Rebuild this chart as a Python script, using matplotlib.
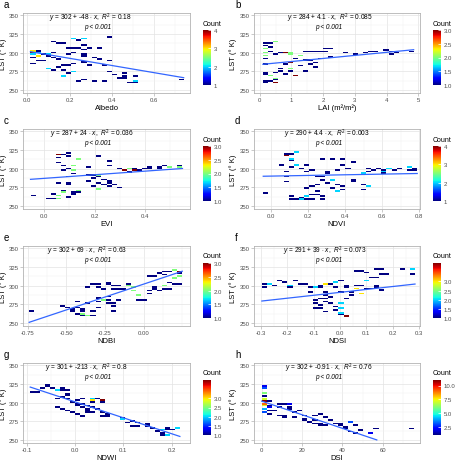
import matplotlib.pyplot as plt
import numpy as np
from matplotlib.ticker import AutoMinorLocator

plt.rcParams['font.family'] = ['Liberation Sans', 'DejaVu Sans']
plt.rcParams['axes.unicode_minus'] = False
plt.rcParams['mathtext.fontset'] = 'custom'
plt.rcParams['mathtext.rm'] = 'Liberation Sans'
plt.rcParams['mathtext.it'] = 'Liberation Sans:italic'

# binned points per panel: (index value, LST, count)
albedo_bins = [
    (0.02, 300, 4), (0.03, 303, 3), (0.015, 297, 2), (0.04, 296, 3), (0.03, 293, 1),
    (0.05, 300, 2), (0.015, 285, 1), (0.045, 290, 1), (0.06, 303, 1), (0.07, 298, 1),
    (0.08, 290, 1), (0.10, 297, 2), (0.11, 296, 1), (0.13, 300, 1), (0.12, 293, 1),
    (0.14, 291, 1), (0.09, 279, 1), (0.11, 278, 1), (0.12, 276, 1), (0.15, 280, 1),
    (0.17, 277, 1), (0.19, 273, 1), (0.12, 314, 1), (0.145, 312, 1), (0.16, 313, 1),
    (0.21, 318, 2), (0.24, 316, 1), (0.28, 318, 2), (0.27, 311, 1), (0.38, 322, 1),
    (0.19, 306, 1), (0.21, 307, 1), (0.24, 307, 1), (0.27, 305, 1), (0.30, 306, 1),
    (0.33, 307, 1), (0.19, 298, 1), (0.22, 300, 1), (0.26, 298, 1), (0.28, 296, 1),
    (0.31, 293, 1), (0.33, 291, 1), (0.40, 289, 1), (0.17, 284, 1), (0.20, 283, 1),
    (0.23, 285, 1), (0.26, 287, 1), (0.29, 283, 1), (0.36, 284, 1), (0.23, 275, 2),
    (0.18, 268, 2), (0.24, 263, 1), (0.28, 265, 1), (0.31, 263, 1), (0.36, 263, 1),
    (0.40, 274, 1), (0.41, 270, 1), (0.43, 266, 1), (0.45, 268, 1), (0.46, 272, 1),
    (0.47, 266, 1), (0.49, 261, 1), (0.52, 259, 1), (0.52, 268, 1), (0.50, 262, 2),
    (0.74, 265, 1),
]
lai_bins = [
    (0.1, 313, 1), (0.3, 313, 1), (0.45, 315, 1), (0.55, 316, 1), (0.2, 310, 1),
    (0.35, 307, 1), (0.1, 305, 2), (0.1, 300, 2), (0.1, 296, 2), (0.12, 292, 1),
    (0.1, 284, 1), (0.1, 274, 1), (0.12, 262, 1), (0.2, 259, 1), (0.3, 262, 1),
    (0.4, 302, 1), (0.45, 298, 1), (0.6, 300, 1), (0.82, 300, 3), (0.9, 299, 2),
    (1.0, 297, 2), (1.15, 293, 1), (1.3, 296, 2), (1.0, 287, 3), (0.85, 285, 1),
    (0.2, 272, 1), (0.3, 269, 1), (0.4, 270, 1), (0.5, 274, 1), (0.6, 276, 1),
    (0.7, 278, 1), (0.55, 266, 2), (0.45, 264, 1), (0.45, 260, 3), (0.8, 272, 1),
    (0.9, 279, 2), (1.13, 270, 3), (0.95, 276, 1), (1.35, 282, 1), (1.5, 276, 1),
    (1.55, 284, 1), (1.7, 286, 1), (1.8, 280, 1), (1.4, 290, 1), (1.65, 290, 1),
    (1.45, 301, 1), (1.6, 301, 1), (1.75, 301, 1), (1.9, 301, 1), (2.05, 302, 1),
    (2.2, 305, 1), (2.0, 305, 1), (1.95, 293, 1), (2.2, 295, 1), (2.7, 299, 1),
    (3.0, 298, 1), (3.35, 300, 1), (3.5, 302, 1), (3.7, 302, 1), (3.95, 303, 1),
    (4.2, 302, 1), (4.1, 297, 1), (4.3, 300, 1), (4.85, 301, 1),
]
evi_bins = [
    (-0.055, 265, 1), (0.013, 259, 1), (0.04, 261, 1), (0.06, 264, 2), (0.06, 319, 3),
    (0.075, 319, 1), (0.1, 322, 1), (0.09, 316, 1), (0.05, 314, 1), (0.06, 308, 1),
    (0.085, 305, 1), (0.1, 300, 1), (0.11, 304, 2), (0.11, 298, 2), (0.08, 298, 1),
    (0.12, 294, 1), (0.09, 289, 1), (0.053, 280, 1), (0.09, 280, 1), (0.105, 279, 1),
    (0.08, 271, 1), (0.085, 268, 1), (0.11, 269, 1), (0.125, 266, 1), (0.1, 263, 1),
    (0.04, 267, 1), (0.07, 269, 1), (0.13, 270, 2), (0.145, 268, 1), (0.065, 260, 2),
    (0.13, 313, 2), (0.21, 316, 1), (0.21, 292, 2), (0.205, 288, 1), (0.18, 283, 1),
    (0.17, 302, 1), (0.17, 292, 1), (0.2, 292, 1), (0.225, 290, 1), (0.24, 286, 1),
    (0.225, 281, 1), (0.24, 279, 1), (0.25, 283, 1), (0.265, 281, 1), (0.28, 279, 1),
    (0.29, 274, 1), (0.25, 277, 1), (0.21, 273, 2), (0.2, 277, 1), (0.26, 311, 1),
    (0.25, 305, 1), (0.3, 300, 1), (0.315, 298, 1), (0.33, 300, 2), (0.35, 300, 1),
    (0.365, 298, 1), (0.345, 296, 1), (0.38, 297, 1), (0.395, 300, 1), (0.41, 301, 1),
    (0.42, 300, 1), (0.45, 300, 1), (0.46, 302, 1), (0.475, 304, 1), (0.49, 301, 1),
    (0.5, 302, 1), (0.53, 301, 1), (0.54, 304, 1), (0.55, 302, 1), (0.32, 297, 2),
    (0.36, 297, 2),
]
ndvi_bins = [
    (-0.043, 267, 1), (0.074, 317, 4), (0.095, 319, 1), (0.11, 320, 1), (0.13, 321, 1),
    (0.14, 323, 1), (0.12, 314, 2), (0.105, 311, 1), (0.06, 305, 1), (0.13, 305, 2),
    (0.12, 303, 1), (0.085, 296, 1), (0.08, 290, 1), (0.095, 282, 1), (0.1, 264, 1),
    (0.11, 260, 1), (0.14, 258, 1), (0.16, 262, 1), (0.17, 258, 2), (0.195, 258, 1),
    (0.2, 264, 2), (0.22, 266, 1), (0.245, 266, 1), (0.255, 270, 1), (0.22, 276, 1),
    (0.185, 274, 1), (0.23, 258, 1), (0.275, 264, 1), (0.285, 260, 1), (0.16, 301, 1),
    (0.185, 304, 1), (0.2, 295, 1), (0.23, 299, 1), (0.25, 290, 1), (0.275, 290, 1),
    (0.295, 293, 1), (0.31, 295, 1), (0.33, 286, 1), (0.345, 284, 1), (0.365, 279, 1),
    (0.39, 277, 1), (0.375, 273, 1), (0.35, 270, 2), (0.33, 275, 1), (0.31, 281, 1),
    (0.29, 284, 1), (0.255, 279, 1), (0.29, 313, 1), (0.34, 313, 1), (0.38, 313, 1),
    (0.39, 304, 1), (0.365, 298, 1), (0.41, 300, 1), (0.43, 308, 1), (0.435, 285, 1),
    (0.455, 283, 1), (0.49, 279, 1), (0.515, 277, 2), (0.51, 272, 1), (0.49, 293, 2),
    (0.525, 296, 1), (0.54, 300, 1), (0.56, 298, 1), (0.585, 300, 1), (0.6, 298, 1),
    (0.62, 296, 2), (0.64, 300, 1), (0.65, 301, 1), (0.67, 299, 1), (0.7, 300, 1),
    (0.74, 302, 2), (0.75, 298, 1), (0.77, 297, 1), (0.79, 301, 1), (0.6, 293, 1),
]
ndbi_bins = [
    (-0.74, 267, 1), (-0.53, 272, 1), (-0.5, 270, 1), (-0.47, 267, 1), (-0.44, 278, 1),
    (-0.46, 269, 1), (-0.42, 270, 1), (-0.41, 267, 1), (-0.39, 269, 1), (-0.43, 263, 1),
    (-0.4, 261, 1), (-0.38, 262, 2), (-0.37, 259, 2), (-0.36, 277, 1), (-0.32, 259, 1),
    (-0.34, 267, 1), (-0.31, 270, 1), (-0.29, 278, 1), (-0.27, 280, 1), (-0.28, 284, 1),
    (-0.25, 282, 1), (-0.23, 276, 1), (-0.22, 280, 1), (-0.21, 272, 1), (-0.19, 267, 1),
    (-0.18, 276, 1), (-0.16, 282, 1), (-0.24, 286, 1), (-0.37, 298, 1), (-0.33, 303, 1),
    (-0.31, 298, 1), (-0.28, 303, 1), (-0.26, 296, 1), (-0.24, 303, 1), (-0.22, 304, 1),
    (-0.21, 296, 1), (-0.19, 300, 1), (-0.17, 296, 1), (-0.16, 299, 1), (-0.13, 296, 1),
    (-0.11, 300, 2), (-0.08, 303, 1), (-0.07, 297, 2), (-0.05, 293, 2), (-0.02, 287, 2),
    (-0.03, 282, 1), (0.0, 280, 1), (0.02, 289, 1), (0.04, 294, 1), (0.06, 296, 1),
    (0.08, 298, 1), (0.1, 293, 1), (0.12, 296, 1), (0.13, 300, 1), (0.04, 312, 1),
    (0.07, 313, 1), (0.1, 316, 1), (0.13, 315, 1), (0.15, 319, 1), (0.17, 319, 1),
    (0.19, 322, 1), (0.21, 321, 1), (0.22, 319, 3), (0.23, 317, 1), (0.25, 312, 2),
    (0.21, 310, 2), (0.17, 305, 1), (0.19, 301, 1), (0.23, 303, 1), (0.15, 299, 1),
    (0.16, 295, 1),
]
ndsi_bins = [
    (-0.297, 303, 1), (-0.29, 299, 1), (-0.275, 302, 1), (-0.26, 303, 1), (-0.24, 301, 1),
    (-0.225, 306, 1), (-0.21, 304, 1), (-0.2, 297, 1), (-0.185, 301, 2), (-0.165, 306, 1),
    (-0.15, 303, 1), (-0.125, 303, 1), (-0.115, 299, 1), (-0.1, 297, 1), (-0.09, 299, 1),
    (-0.08, 301, 1), (-0.07, 297, 1), (-0.06, 303, 3), (-0.04, 303, 1), (-0.02, 304, 2),
    (0.0, 306, 1), (0.02, 301, 1), (0.03, 299, 1), (-0.11, 291, 1), (-0.09, 281, 1),
    (-0.085, 270, 1), (-0.075, 274, 1), (-0.06, 279, 1), (-0.055, 283, 1), (-0.05, 287, 1),
    (-0.035, 285, 1), (-0.035, 276, 1), (-0.02, 271, 1), (-0.025, 267, 1), (-0.005, 270, 2),
    (0.005, 264, 2), (0.01, 261, 1), (0.025, 260, 3), (0.03, 258, 1), (-0.005, 276, 2),
    (0.02, 283, 1), (0.035, 287, 1), (0.045, 292, 1), (0.005, 292, 1), (-0.02, 297, 1),
    (-0.045, 292, 1), (-0.075, 283, 1), (-0.085, 276, 1), (-0.075, 269, 1), (-0.045, 266, 1),
    (0.055, 301, 1), (0.07, 295, 3), (0.075, 290, 2), (0.082, 301, 1), (0.09, 290, 1),
    (0.095, 295, 1), (0.11, 306, 1), (0.12, 295, 1), (0.13, 299, 1), (0.14, 301, 1),
    (0.15, 294, 1), (0.07, 319, 1), (0.09, 319, 1), (0.11, 318, 1), (0.13, 321, 1),
    (0.15, 321, 1), (0.155, 315, 1), (0.14, 312, 1), (0.12, 310, 1), (0.1, 306, 1),
    (0.17, 315, 1), (0.24, 321, 1), (0.28, 323, 2), (0.285, 315, 1),
]
ndwi_bins = [
    (-0.093, 314, 1), (-0.079, 314, 1), (-0.069, 320, 1), (-0.062, 322, 1), (-0.052, 325, 1),
    (-0.045, 320, 1), (-0.038, 318, 2), (-0.03, 318, 1), (-0.024, 319, 1), (-0.017, 318, 1),
    (-0.02, 313, 1), (-0.026, 307, 1), (-0.033, 305, 1), (-0.017, 309, 1), (-0.014, 305, 1),
    (-0.01, 300, 1), (0.0, 298, 1), (0.007, 302, 1), (0.014, 305, 1), (0.01, 296, 1),
    (0.017, 294, 1), (0.02, 298, 1), (0.024, 291, 1), (0.03, 289, 1), (0.026, 296, 1),
    (0.033, 300, 1), (0.031, 302, 3), (0.038, 305, 2), (0.045, 305, 1), (0.052, 303, 3),
    (0.055, 300, 1), (0.058, 302, 1), (-0.034, 293, 1), (-0.024, 291, 1), (-0.014, 289, 1),
    (-0.003, 286, 1), (0.01, 284, 1), (0.02, 282, 1), (0.03, 288, 1), (0.038, 293, 1),
    (0.048, 291, 1), (0.059, 287, 1), (0.066, 284, 1), (0.072, 282, 1), (0.052, 282, 1),
    (0.041, 287, 1), (0.093, 280, 1), (0.1, 277, 2), (0.107, 274, 1), (0.12, 275, 1),
    (0.124, 268, 1), (0.117, 268, 1), (0.134, 273, 1), (0.145, 270, 1), (0.152, 268, 1),
    (0.162, 266, 1), (0.169, 261, 1), (0.176, 264, 2), (0.183, 260, 1), (0.19, 264, 1),
    (0.193, 266, 1), (0.2, 265, 1), (0.207, 267, 1), (0.217, 267, 1), (0.19, 257, 2),
    (0.183, 256, 1),
]
dsi_bins = [
    (0, 323, 2), (0, 319, 3), (0, 313, 6), (0, 309, 1), (0, 304.5, 7), (0, 302, 11),
    (0, 299, 9), (0, 295.5, 7), (0, 291, 4), (0, 287, 3), (3, 293, 2), (3, 302, 1),
    (3.7, 289, 1), (5, 295, 1), (4.5, 285, 1), (7, 289, 1), (7.9, 282, 1), (9.5, 293, 1),
    (10.5, 283, 1), (11, 298, 1), (13, 298, 1), (14.5, 298, 1), (13.5, 294, 1),
    (15, 291, 1), (16.2, 287, 1), (18, 289, 1), (15.4, 280, 1), (12, 280, 1), (9.5, 297, 1),
    (20.4, 282, 1), (21, 278, 1), (22.5, 276, 1), (24, 274, 1), (27, 282, 1), (28, 284, 1),
    (28.5, 273, 1), (31, 280, 1), (26, 271, 1), (28.5, 269, 1), (30.4, 269, 1), (26, 276, 1),
    (33, 276, 1), (36, 273, 1), (38, 269, 1), (39.6, 271, 1), (40.5, 267, 1), (42, 265, 1),
    (43.8, 262, 1), (45.5, 269, 1), (43, 274, 3), (49.6, 263, 1), (47, 258, 1), (53, 260, 1),
    (54.6, 259, 1), (56, 265, 1), (75.5, 266, 1),
]

panel_letters = ['a', 'b', 'c', 'd', 'e', 'f', 'g', 'h']
x_labels = ['Albedo', 'LAI (m²/m²)', 'EVI', 'NDVI', 'NDBI', 'NDSI', 'NDWI', 'DSI']
intercepts = [302, 284, 287, 290, 302, 291, 301, 302]
slopes = [-48, 4.1, 24, 4.4, 69, 39, -213, -0.91]
r_squared = [0.18, 0.085, 0.036, 0.003, 0.63, 0.073, 0.8, 0.76]
fit_ranges = [(0.015, 0.74), (0.1, 4.85), (-0.055, 0.55), (-0.043, 0.79),
              (-0.74, 0.25), (-0.297, 0.285), (-0.093, 0.217), (0, 57)]
x_ticks = [
    [0.0, 0.2, 0.4, 0.6],
    [0, 1, 2, 3, 4, 5],
    [0.0, 0.2, 0.4],
    [0.0, 0.2, 0.4, 0.6, 0.8],
    [-0.75, -0.50, -0.25, 0.00],
    [-0.3, -0.2, -0.1, 0.0, 0.1, 0.2, 0.3],
    [-0.1, 0.0, 0.1, 0.2],
    [0, 20, 40, 60],
]
x_tick_fmt = ['%.1f', '%d', '%.1f', '%.1f', '%.2f', '%.1f', '%.1f', '%d']
x_limits = [(-0.02, 0.77), (-0.18, 5.05), (-0.085, 0.58), (-0.093, 0.805),
            (-0.78, 0.30), (-0.327, 0.304), (-0.108, 0.238), (-3.8, 78.4)]
y_ticks = [250, 275, 300, 325, 350]
count_ticks = [
    [1, 2, 3, 4],
    [1.0, 1.5, 2.0, 2.5, 3.0],
    [1.0, 1.5, 2.0, 2.5, 3.0],
    [1, 2, 3, 4],
    [1.0, 1.5, 2.0, 2.5, 3.0],
    [1.0, 1.5, 2.0, 2.5, 3.0],
    [1.0, 1.5, 2.0, 2.5, 3.0],
    [2.5, 5.0, 7.5, 10.0],
]
count_fmt = ['%d', '%.1f', '%.1f', '%d', '%.1f', '%.1f', '%.1f', '%.1f']

panels = [albedo_bins, lai_bins, evi_bins, ndvi_bins,
          ndbi_bins, ndsi_bins, ndwi_bins, dsi_bins]

# layout in pixels
W, H = 459, 464
col_left = [23, 254]
col_width = [167, 166]
row_top = [14, 130, 247, 364]
ax_h = 80
cbar_left = [203, 433]
ylabel_x = [7, 237]
eq_x = [0.40, 0.46, 0.41, 0.44, 0.386, 0.43, 0.38, 0.45]

grey_txt = '#4D4D4D'
border = '#B3B3B3'

fig = plt.figure(figsize=(W / 100, H / 100), dpi=100)
fig.patch.set_facecolor('white')

for i, bins in enumerate(panels):
    r, c = divmod(i, 2)
    top = row_top[r]
    ax = fig.add_axes([col_left[c] / W, 1 - (top + ax_h) / H,
                       col_width[c] / W, ax_h / H])
    xs = np.array([b[0] for b in bins])
    ys = np.array([b[1] for b in bins])
    ns = np.array([b[2] for b in bins])

    h, xe, ye, im = ax.hist2d(xs, ys, bins=30, weights=ns, cmap='jet', cmin=0.5)
    im.set_clim(1, np.nanmax(h))

    lo, hi = fit_ranges[i]
    fx = np.array([lo, hi])
    ax.plot(fx, intercepts[i] + slopes[i] * fx, color='#3366FF', lw=0.9)

    ax.set_xlim(*x_limits[i])
    ax.set_ylim(246, 353)
    ax.set_xticks(x_ticks[i])
    ax.set_xticklabels([x_tick_fmt[i] % v for v in x_ticks[i]])
    ax.set_yticks(y_ticks)
    ax.xaxis.set_minor_locator(AutoMinorLocator(2))
    ax.yaxis.set_minor_locator(AutoMinorLocator(2))
    ax.set_axisbelow(True)
    ax.grid(which='major', color='#E3E3E3', lw=0.5)
    ax.grid(which='minor', color='#F0F0F0', lw=0.35)
    for s in ax.spines.values():
        s.set_color(border)
        s.set_linewidth(0.6)
    ax.tick_params(which='major', length=2, width=0.5, color=border,
                   labelsize=4.3, labelcolor=grey_txt, pad=1)
    ax.tick_params(which='minor', length=0)
    ax.set_xlabel(x_labels[i], fontsize=5.5, labelpad=1)
    ax.set_ylabel('LST (° K)', fontsize=5.5)
    ax.yaxis.set_label_coords((ylabel_x[c] - col_left[c]) / col_width[c], 0.5)

    eq = (r'$y$ = %d + %s $\cdot$ $x$,  $R^2$ = %s'
          % (intercepts[i], slopes[i], r_squared[i]))
    ax.text(eq_x[i], 1 - 4.5 / ax_h, eq, transform=ax.transAxes,
            ha='center', va='center', fontsize=4.7)
    ax.text(0.45, 1 - 13.5 / ax_h, 'p < 0.001', transform=ax.transAxes,
            ha='center', va='center', fontsize=4.7, style='italic')

    fig.text((col_left[c] - 19) / W, 1 - (top - 9) / H, panel_letters[i],
             fontsize=7, va='center', ha='left')

    cax = fig.add_axes([cbar_left[c] / W, 1 - (top + 72) / H, 8 / W, 55 / H])
    cb = fig.colorbar(im, cax=cax)
    cb.outline.set_visible(False)
    cb.set_ticks(count_ticks[i])
    cb.set_ticklabels([count_fmt[i] % v for v in count_ticks[i]])
    cax.tick_params(length=2, width=0.5, color='white', direction='in',
                    labelsize=4.3, labelcolor=grey_txt, pad=2)
    fig.text(cbar_left[c] / W, 1 - (top + 10) / H, 'Count', fontsize=5,
             va='center', ha='left')

fig.savefig('out.png', dpi=100)
